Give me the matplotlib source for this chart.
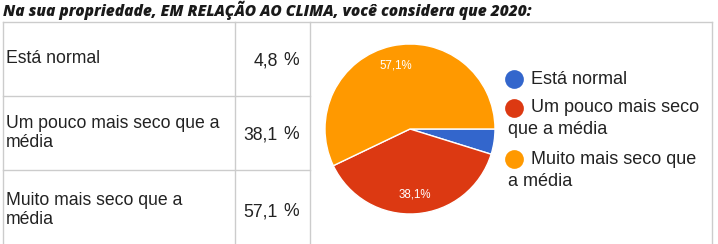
import matplotlib
matplotlib.use("Agg")
import matplotlib.pyplot as plt

# data
title = "Na sua propriedade, EM RELAÇÃO AO CLIMA, você considera que 2020:"
categories = ["Está normal", "Um pouco mais seco que a média", "Muito mais seco que a média"]
table_labels = ["Está normal", "Um pouco mais seco que a\nmédia", "Muito mais seco que a\nmédia"]
legend_labels = [["Está normal"], ["Um pouco mais seco", "que a média"], ["Muito mais seco que", "a média"]]
percentages = [4.8, 38.1, 57.1]
colors = ["#3366cc", "#dc3912", "#ff9900"]

W, H = 718, 244
DPI = 100

fig = plt.figure(figsize=(W / DPI, H / DPI), dpi=DPI)
fig.patch.set_facecolor("white")

# overlay axes in pixel coordinates (y down)
ax = fig.add_axes([0, 0, 1, 1])
ax.set_xlim(0, W)
ax.set_ylim(H, 0)
ax.axis("off")

# title, fitted to its width in the reference
t = ax.text(3, 10, title, fontsize=12, fontweight="heavy", fontstyle="italic",
            family=["Open Sans", "DejaVu Sans"],
            color="#1a1a1a", va="center", ha="left")
fig.canvas.draw()
w = t.get_window_extent().width
t.set_fontsize(min(12 * 529 / w, 13))

# table grid
grid = "#cccccc"
top = 21.5
ax.plot([3, 712], [top, top], color=grid, lw=1)
for x in [3, 235, 310, 712]:
    ax.plot([x, x], [top, H], color=grid, lw=1)
row_edges = [top, 96, 170, 250]
for y in row_edges[1:-1]:
    ax.plot([3, 310], [y, y], color=grid, lw=1)

text_font = ["Liberation Sans", "DejaVu Sans"]
for i, (lab, pct) in enumerate(zip(table_labels, percentages)):
    yc = (row_edges[i] + row_edges[i + 1]) / 2
    ax.text(6, yc, lab, fontsize=12.7, family=text_font, color="#222222",
            va="center", ha="left", linespacing=1.15)
    ax.text(278, yc + 6.3, f"{pct:.1f}".replace(".", ","), fontsize=12.7,
            family=text_font, color="#222222", va="baseline", ha="right")
    ax.text(299, yc + 6.3, "%", fontsize=12.7,
            family=text_font, color="#222222", va="baseline", ha="right")

# pie
cx, cy, r = 410, 129, 85
pax = fig.add_axes([(cx - r) / W, (H - cy - r) / H, 2 * r / W, 2 * r / H])


def fmt(p):
    return "" if p < 5 else f"{p:.1f}".replace(".", ",") + "%"


wedges, texts, autotexts = pax.pie(
    percentages, colors=colors, startangle=0, counterclock=False,
    autopct=fmt, pctdistance=0.77,
    wedgeprops=dict(edgecolor="white", linewidth=1),
    textprops=dict(color="white", fontsize=8.3, family=text_font))
pax.set_xlim(-1, 1)
pax.set_ylim(-1, 1)

# legend
y = 79
for lines, c in zip(legend_labels, colors):
    ax.scatter([514], [y], s=13.5 ** 2, color=c, marker="o", linewidths=0)
    for j, line in enumerate(lines):
        x0 = 531 if j == 0 else 508
        ax.text(x0, y + 22 * j, line, fontsize=13, family=text_font,
                color="#222222", va="center", ha="left")
    y += 22 * (len(lines) - 1) + 29

fig.savefig("out.png", dpi=DPI, facecolor="white")
